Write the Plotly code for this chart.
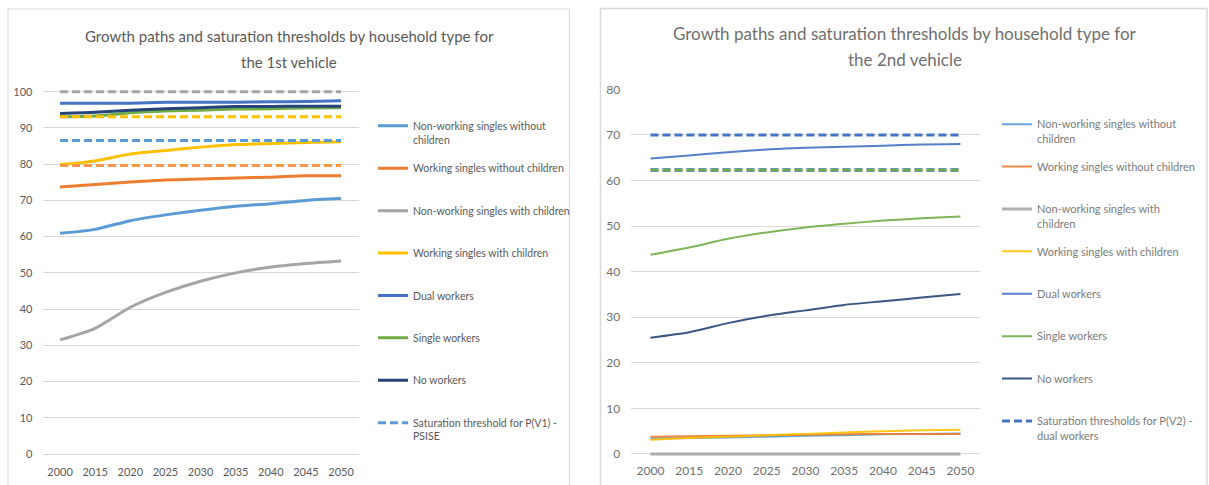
import plotly.graph_objects as go

# ---------------- data ----------------
years = ["2000", "2015", "2020", "2025", "2030", "2035", "2040", "2045", "2050"]

names_v1 = [
    "Non-working singles without<br>children",
    "Working singles without children<br> ",
    "Non-working singles with children<br> ",
    "Working singles with children<br> ",
    "Dual workers<br> ",
    "Single workers<br> ",
    "No workers<br> ",
]
names_v2 = [
    "Non-working singles without<br>children",
    "Working singles without children<br> ",
    "Non-working singles with<br>children",
    "Working singles with children<br> ",
    "Dual workers<br> ",
    "Single workers<br> ",
    "No workers<br> ",
]
colors = ["#5B9BD5", "#ED7D31", "#A5A5A5", "#FFC000", "#4472C4", "#70AD47", "#264478"]

# 1st vehicle growth paths
v1_nonwork_nochild = [60.9, 62.0, 64.4, 66.0, 67.3, 68.4, 69.1, 70.0, 70.5]
v1_work_nochild = [73.7, 74.4, 75.1, 75.6, 75.9, 76.2, 76.4, 76.8, 76.8]
v1_nonwork_child = [31.5, 34.7, 40.5, 44.6, 47.7, 50.0, 51.6, 52.6, 53.3]
v1_work_child = [79.9, 80.9, 82.8, 83.8, 84.7, 85.4, 85.7, 86.0, 86.2]
v1_dual = [96.8, 96.8, 96.8, 97.1, 97.1, 97.1, 97.2, 97.3, 97.5]
v1_single = [93.1, 93.3, 94.2, 94.7, 94.9, 95.2, 95.3, 95.5, 95.6]
v1_none = [94.0, 94.3, 94.9, 95.3, 95.6, 95.9, 95.9, 96.0, 96.0]

# 1st vehicle saturation thresholds
thr_v1_psise = 86.5
thr_v1_other = [100.0, 93.1, 79.6]
thr_v1_other_colors = ["#A5A5A5", "#FFC000", "#F79646"]
thr_v1_label = "Saturation threshold for P(V1) -<br>PSISE"

# 2nd vehicle growth paths
v2_nonwork_nochild = [3.4, 3.5, 3.6, 3.8, 4.0, 4.1, 4.3, 4.4, 4.5]
v2_work_nochild = [3.8, 3.9, 4.0, 4.1, 4.2, 4.3, 4.4, 4.4, 4.4]
v2_nonwork_child = [0, 0, 0, 0, 0, 0, 0, 0, 0]
v2_work_child = [3.1, 3.5, 3.8, 4.1, 4.4, 4.7, 5.0, 5.2, 5.3]
v2_dual = [64.8, 65.5, 66.2, 66.8, 67.2, 67.4, 67.6, 67.9, 68.0]
v2_single = [43.7, 45.3, 47.2, 48.6, 49.7, 50.5, 51.2, 51.7, 52.1]
v2_none = [25.5, 26.7, 28.7, 30.3, 31.5, 32.7, 33.5, 34.3, 35.1]

# 2nd vehicle saturation thresholds
thr_v2_dual = 70.0
thr_v2_single = 62.3
thr_v2_label = "Saturation thresholds for P(V2) -<br>dual workers"

title_v1 = ["Growth paths and saturation thresholds by household type for", "the 1st vehicle"]
title_v2 = ["Growth paths and saturation thresholds by household type for", "the 2nd vehicle"]

v1_series = [v1_nonwork_nochild, v1_work_nochild, v1_nonwork_child, v1_work_child, v1_dual, v1_single, v1_none]
v2_series = [v2_nonwork_nochild, v2_work_nochild, v2_nonwork_child, v2_work_child, v2_dual, v2_single, v2_none]
v2_widths = [2, 2, 3, 2, 2, 2, 2]

# ---------------- figure ----------------
FONT = "Lato, Carlito, Calibri, sans-serif"
W, H = 1209, 485
fig = go.Figure()

for i, (nm, vals) in enumerate(zip(names_v1, v1_series)):
    fig.add_trace(go.Scatter(x=years, y=vals, mode="lines", name=nm,
                             line=dict(color=colors[i], width=3, shape="spline", smoothing=0.6),
                             xaxis="x", yaxis="y", legend="legend", legendgroup="a%d" % i))
fig.add_trace(go.Scatter(x=years, y=[thr_v1_psise] * len(years), mode="lines", name=thr_v1_label,
                         line=dict(color="#5B9BD5", width=3, dash="8px,4px"),
                         xaxis="x", yaxis="y", legend="legend", legendgroup="a7"))
for val, col in zip(thr_v1_other, thr_v1_other_colors):
    fig.add_trace(go.Scatter(x=years, y=[val] * len(years), mode="lines", showlegend=False,
                             line=dict(color=col, width=3, dash="8px,4px"),
                             xaxis="x", yaxis="y"))

for i, (nm, vals) in enumerate(zip(names_v2, v2_series)):
    fig.add_trace(go.Scatter(x=years, y=vals, mode="lines", name=nm,
                             line=dict(color=colors[i], width=v2_widths[i], shape="spline", smoothing=0.6),
                             opacity=0.9,
                             xaxis="x2", yaxis="y2", legend="legend2", legendgroup="b%d" % i))
fig.add_trace(go.Scatter(x=years, y=[thr_v2_single] * len(years), mode="lines", showlegend=False,
                         line=dict(color="#4472C4", width=4, dash="8px,4px"),
                         opacity=0.8, xaxis="x2", yaxis="y2"))
fig.add_trace(go.Scatter(x=years, y=[thr_v2_single] * len(years), mode="lines", showlegend=False,
                         line=dict(color="#70AD47", width=2.5, dash="8px,4px"),
                         xaxis="x2", yaxis="y2"))
fig.add_trace(go.Scatter(x=years, y=[thr_v2_dual] * len(years), mode="lines", name=thr_v2_label,
                         line=dict(color="#4472C4", width=3, dash="8px,4px"),
                         xaxis="x2", yaxis="y2", legend="legend2", legendgroup="b7"))

def px_x(p):
    return p / W

def px_y(p):
    return (H - p) / H

grid = "#D9D9D9"
fig.update_layout(
    width=W, height=H, margin=dict(l=0, r=0, t=0, b=0, autoexpand=False),
    paper_bgcolor="white", plot_bgcolor="white",
    font=dict(family=FONT, color="#595959"),
    xaxis=dict(domain=[px_x(42.5), px_x(358.6)], type="category", range=[-0.5, 8.5],
               showgrid=False, showline=False, zeroline=False, ticks="", automargin=False,
               tickfont=dict(size=11, color="#595959"), ticklabelstandoff=10),
    yaxis=dict(domain=[px_y(454), px_y(88.8)], range=[0, 100.8], tickvals=list(range(0, 101, 10)),
               showgrid=True, gridcolor=grid, gridwidth=1, zeroline=True, zerolinecolor=grid,
               zerolinewidth=1, showline=False, ticks="", automargin=False,
               tickfont=dict(size=11, color="#595959"), ticklabelstandoff=9),
    xaxis2=dict(domain=[px_x(631.1), px_x(979.8)], type="category", range=[-0.5, 8.5],
                showgrid=False, showline=False, zeroline=False, ticks="", anchor="y2",
                automargin=False,
                tickfont=dict(size=12, color="#6f6f6f"), ticklabelstandoff=5),
    yaxis2=dict(domain=[px_y(456.7), px_y(89.3)], range=[-0.6, 80], tickvals=list(range(0, 81, 10)),
                showgrid=True, gridcolor=grid, gridwidth=1, zeroline=True, zerolinecolor=grid,
                zerolinewidth=1, showline=False, ticks="", anchor="x2", automargin=False,
                tickfont=dict(size=12, color="#6f6f6f"), ticklabelstandoff=10),
    legend=dict(x=px_x(373), y=px_y(112.5), xanchor="left", yanchor="top",
                font=dict(size=10.5, color="#595959"), valign="top",
                tracegroupgap=12.1, bgcolor="rgba(0,0,0,0)"),
    legend2=dict(x=px_x(997), y=px_y(110.5), xanchor="left", yanchor="top",
                 font=dict(size=11, color="#7a7a7a"), valign="top",
                 tracegroupgap=10.8, bgcolor="rgba(0,0,0,0)"),
    showlegend=True,
)

# panel borders
fig.add_shape(type="rect", xref="paper", yref="paper", x0=px_x(8), x1=px_x(569.5),
              y0=-0.05, y1=px_y(9), line=dict(color="#D9D9D9", width=1), layer="below")
fig.add_shape(type="rect", xref="paper", yref="paper", x0=px_x(600.5), x1=px_x(1207),
              y0=-0.05, y1=px_y(8.5), line=dict(color="#D9D9D9", width=1.5), layer="below")

# titles
for txt, yc in zip(title_v1, [36, 62]):
    fig.add_annotation(text=txt, xref="paper", yref="paper", x=px_x(289), y=px_y(yc),
                       xanchor="center", yanchor="middle", showarrow=False,
                       font=dict(size=15, color="#595959", family=FONT))
for txt, yc in zip(title_v2, [34, 59]):
    fig.add_annotation(text=txt, xref="paper", yref="paper", x=px_x(905), y=px_y(yc),
                       xanchor="center", yanchor="middle", showarrow=False,
                       font=dict(size=17, color="#6f6f6f", family=FONT))

fig.write_html("out.html",
               post_script="document.body.style.margin='0';document.body.style.overflow='hidden';")
